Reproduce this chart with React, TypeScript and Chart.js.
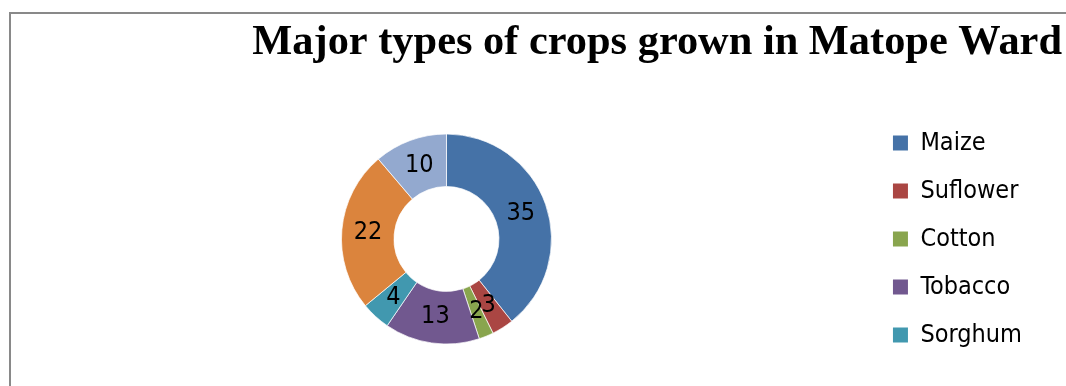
import React, { useEffect, useRef } from 'react';
import { Chart, registerables } from 'chart.js';

Chart.register(...registerables);

const TITLE = 'Major types of crops grown in Matope Ward';
const categories = ['Maize', 'Suflower', 'Cotton', 'Tobacco', 'Sorghum', 'Groundnuts', 'Millet'];
const values = [35, 3, 2, 13, 4, 22, 10];
const colors = ['#4572A7', '#AA4643', '#89A54E', '#71588F', '#4198AF', '#DB843D', '#93A9CF'];
const LEGEND_VISIBLE = 5;

const NARROW = "'DejaVu Sans Condensed', 'Liberation Sans Narrow', sans-serif";
const SERIF = "'Liberation Serif', 'Times New Roman', serif";

const titlePlugin = {
  id: 'rightTitle',
  afterDraw(chart: any) {
    const ctx = chart.ctx;
    ctx.save();
    ctx.font = `bold 42.4px ${SERIF}`;
    ctx.fillStyle = '#000000';
    ctx.textAlign = 'right';
    ctx.textBaseline = 'alphabetic';
    ctx.fillText(TITLE, 1062, 54);
    ctx.restore();
  },
};

const labelPlugin = {
  id: 'sliceLabels',
  afterDatasetsDraw(chart: any) {
    const ctx = chart.ctx;
    const meta = chart.getDatasetMeta(0);
    ctx.save();
    ctx.font = `25px ${NARROW}`;
    ctx.fillStyle = '#000000';
    ctx.textAlign = 'center';
    ctx.textBaseline = 'middle';
    meta.data.forEach((arc: any, i: number) => {
      const p = arc.getCenterPoint();
      ctx.fillText(String(values[i]), p.x, p.y);
    });
    ctx.restore();
  },
};

export default function App() {
  const ref = useRef<HTMLCanvasElement | null>(null);

  useEffect(() => {
    if (!ref.current) return;
    const chart = new Chart(ref.current, {
      type: 'doughnut',
      data: {
        labels: categories,
        datasets: [
          {
            data: values,
            backgroundColor: colors,
            borderColor: 'rgba(255,255,255,0.7)',
            borderWidth: 1,
            radius: 105,
            cutout: '50%',
          } as any,
        ],
      },
      options: {
        animation: false,
        responsive: false,
        devicePixelRatio: 1,
        layout: { padding: { left: 23, right: 34, top: 92, bottom: 0 } },
        plugins: {
          title: { display: false },
          tooltip: { enabled: false },
          legend: {
            position: 'right',
            align: 'center',
            labels: {
              boxWidth: 15,
              boxHeight: 15,
              padding: 23,
              color: '#000000',
              font: { family: NARROW, size: 25 },
              generateLabels: (c: any) =>
                (Chart as any).overrides.doughnut.plugins.legend.labels
                  .generateLabels(c)
                  .map((l: any) => ({ ...l, lineWidth: 0, strokeStyle: l.fillStyle }))
                  .filter((l: any) => l.index < LEGEND_VISIBLE),
            },
          },
        },
      },
      plugins: [labelPlugin, titlePlugin],
    });
    return () => chart.destroy();
  }, []);

  return (
    <div style={{ position: 'fixed', left: 0, top: 0, width: 1066, height: 386, overflow: 'hidden', background: '#ffffff' }}>
      <div
        style={{
          position: 'absolute',
          left: 9,
          top: 12,
          width: 1300,
          height: 600,
          border: '2px solid #898989',
          boxSizing: 'border-box',
        }}
      />
      <canvas ref={ref} width={1066} height={386} style={{ position: 'absolute', left: 0, top: 0, width: 1066, height: 386 }} />
    </div>
  );
}
